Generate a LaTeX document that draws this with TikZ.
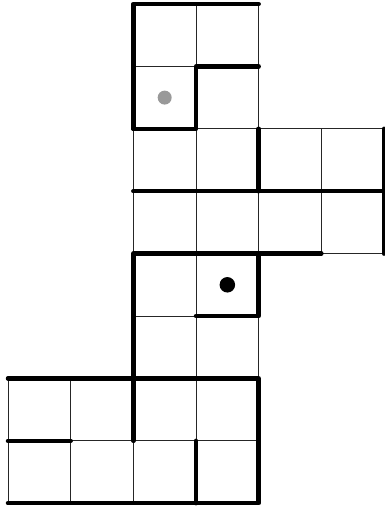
\documentclass[tikz,border=0pt]{standalone}
\begin{document}
\begin{tikzpicture}[x=1pt,y=-1pt,
  thinline/.style={line width=1pt,black!85},
  thickline/.style={line width=4.5pt,black,line cap=round,line join=round}]
\useasboundingbox (0,0) rectangle (385,507);
\begin{scope}[shift={(8,4)},x=62.67pt,y=-62.4pt]
  % thin cell grid
  \foreach \c/\r in {2/0,3/0,2/1,3/1,2/2,3/2,4/2,5/2,2/3,3/3,4/3,5/3,2/4,3/4,2/5,3/5,0/6,1/6,2/6,3/6,0/7,1/7,2/7,3/7}
    \draw[thinline] (\c,\r) rectangle ++(1,1);
  % thick walls
  \draw[thickline] (2,2) -- (2,0) -- (4,0);
  \draw[thickline] (2,2) -- (3,2) -- (3,1) -- (4,1);
  \draw[thickline] (4,2) -- (4,3);
  \draw[thickline] (2,3) -- (6,3);
  \draw[thickline] (6,2) -- (6,4);
  \draw[thickline] (2,7) -- (2,4) -- (5,4);
  \draw[thickline] (4,4) -- (4,5) -- (3,5);
  \draw[thickline] (0,6) -- (4,6) -- (4,8) -- (0,8);
  \draw[thickline] (0,7) -- (1,7);
  \draw[thickline] (3,7) -- (3,8);
  % dots
  \node[circle,fill=black!40,inner sep=0pt,minimum size=14pt] (gray) at (2.5,1.5) {};
  \node[circle,fill=black,inner sep=0pt,minimum size=15.5pt] (goal) at (3.5,4.5) {};
\end{scope}
\end{tikzpicture}
\end{document}
